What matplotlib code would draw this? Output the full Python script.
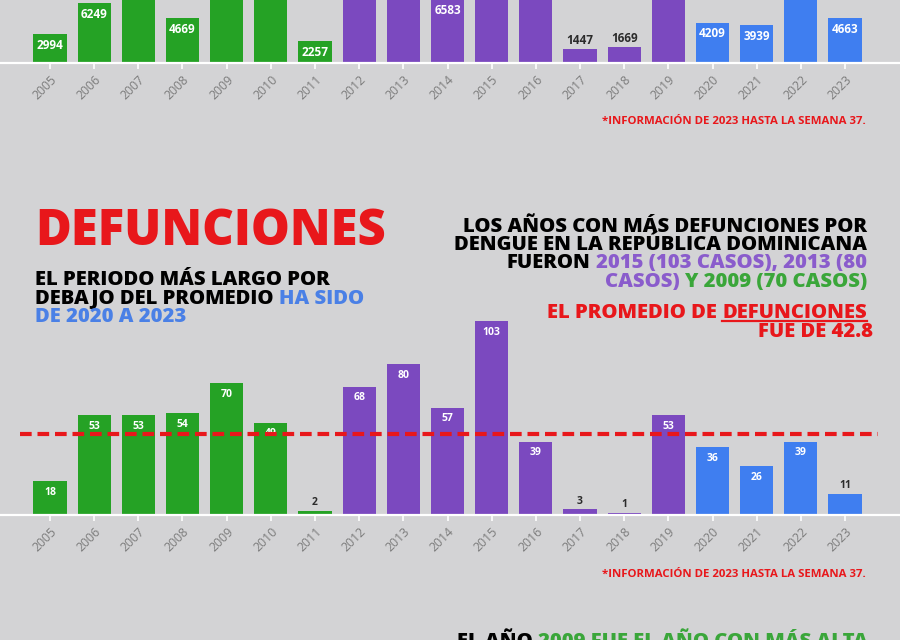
import matplotlib
matplotlib.use("Agg")
import matplotlib.pyplot as plt
from matplotlib.lines import Line2D

matplotlib.rcParams['font.family'] = ['Open Sans', 'DejaVu Sans']

# ── datos ─────────────────────────────────────────────
years = ["2005", "2006", "2007", "2008", "2009", "2010", "2011", "2012", "2013",
         "2014", "2015", "2016", "2017", "2018", "2019", "2020", "2021", "2022", "2023"]
casos = [2994, 6249, 9628, 4669, 8051, 12176, 2257, 10207, 16058,
         6583, 16846, 7286, 1447, 1669, 20183, 4209, 3939, 10737, 4663]
defunciones = [18, 53, 53, 54, 70, 49, 2, 68, 80,
               57, 103, 39, 3, 1, 53, 36, 26, 39, 11]
periodo = ["g"] * 7 + ["p"] * 8 + ["b"] * 4
promedio_def = 42.8

BG = "#d3d3d5"
COL = {"g": "#25a225", "p": "#7b49bf", "b": "#3f7ef0"}
RED = "#e8171b"
PURPLE = "#8a5ccc"
GREEN = "#3aa63a"
BLUE = "#4a80e6"
HEAVY = 800

W, H = 900, 640
fig = plt.figure(figsize=(9, 6.4), dpi=100, facecolor=BG)


def px_axes(left, top, width, height):
    return fig.add_axes([left / W, 1 - (top + height) / H, width / W, height / H])


def bar_chart(ax, values, ymax, thresh, lsize):
    x = list(range(len(values)))
    colors = [COL[p] for p in periodo]
    ax.bar(x, values, width=0.75, color=colors)
    ax.set_xlim(-50 / 44.17, 18 + 55 / 44.17)
    ax.set_ylim(0, ymax)
    ax.set_facecolor("none")
    for s in ["top", "left", "right"]:
        ax.spines[s].set_visible(False)
    ax.spines["bottom"].set_color("white")
    ax.spines["bottom"].set_linewidth(1.6)
    ax.set_yticks([])
    ax.set_xticks(x)
    ax.set_xticklabels(years, rotation=45, ha="right", rotation_mode="anchor",
                       color="#7c7c7c", fontsize=8.8)
    ax.tick_params(axis="x", colors="white", length=4, width=1.2, pad=3,
                   labelcolor="#7c7c7c")
    for xi, v in zip(x, values):
        if v > thresh:
            ax.annotate(str(v), (xi, v), xytext=(0, -8), textcoords="offset points",
                        ha="center", va="center", color="white",
                        fontsize=lsize, fontweight="bold")
        else:
            ax.annotate(str(v), (xi, v), xytext=(0, 6), textcoords="offset points",
                        ha="center", va="center", color="#2b2b2b",
                        fontsize=lsize, fontweight="bold")


# ── gráfico de casos (recortado arriba) ───────────────
ax1 = px_axes(0, 0, W, 63)
bar_chart(ax1, casos, 6562, 2000, 8.5)

fig.text(866 / W, 1 - 124 / H, "*INFORMACIÓN DE 2023 HASTA LA SEMANA 37.",
         ha="right", va="baseline", color=RED, fontsize=8.2, fontweight="bold")

# ── gráfico de defunciones ────────────────────────────
ax2 = px_axes(0, 515 - 207, W, 207)
bar_chart(ax2, defunciones, 207 / 1.884, 15, 7.5)
ax2.axhline(promedio_def, xmin=20 / W, xmax=878 / W, color=RED, lw=3,
            dashes=(2.8, 1.4), zorder=3)

fig.text(866 / W, 1 - 577 / H, "*INFORMACIÓN DE 2023 HASTA LA SEMANA 37.",
         ha="right", va="baseline", color=RED, fontsize=8.2, fontweight="bold")


# ── textos ────────────────────────────────────────────
def rich_line(x, y, pieces, ha="left", size=14.6):
    gap = 0.26 * size
    items = pieces if ha == "left" else pieces[::-1]
    out = []
    prev = None
    for s, c in items:
        if prev is None:
            t = fig.text(x / W, 1 - y / H, s, ha=ha, va="baseline", color=c,
                         fontsize=size, fontweight=HEAVY)
        elif ha == "left":
            t = plt.annotate(s, xy=(1, 0), xycoords=prev, xytext=(gap, 0),
                             textcoords="offset points", ha="left", va="bottom",
                             color=c, fontsize=size, fontweight=HEAVY,
                             annotation_clip=False)
        else:
            t = plt.annotate(s, xy=(0, 0), xycoords=prev, xytext=(-gap, 0),
                             textcoords="offset points", ha="right", va="bottom",
                             color=c, fontsize=size, fontweight=HEAVY,
                             annotation_clip=False)
        out.append(t)
        prev = t
    return out if ha == "left" else out[::-1]


fig.text(35 / W, 1 - 245 / H, "DEFUNCIONES", ha="left", va="baseline",
         color=RED, fontsize=35.3, fontweight=HEAVY)

rich_line(35, 285, [("EL PERIODO MÁS LARGO POR", "black")])
rich_line(35, 304, [("DEBAJO DEL PROMEDIO", "black"), ("HA SIDO", BLUE)])
rich_line(35, 322, [("DE 2020 A 2023", BLUE)])

rich_line(867, 232, [("LOS AÑOS CON MÁS DEFUNCIONES POR", "black")], ha="right")
rich_line(867, 250, [("DENGUE EN LA REPÚBLICA DOMINICANA", "black")], ha="right")
rich_line(867, 268, [("FUERON", "black"), ("2015 (103 CASOS), 2013 (80", PURPLE)], ha="right")
rich_line(867, 287, [("CASOS)", PURPLE), ("Y 2009 (70 CASOS)", GREEN)], ha="right")

red1 = rich_line(867, 318, [("EL PROMEDIO DE", RED), ("DEFUNCIONES", RED)], ha="right")
rich_line(873, 337, [("FUE DE 42.8", RED)], ha="right")

rich_line(868, 647, [("EL AÑO", "black"), ("2009 FUE EL AÑO CON MÁS ALTA", GREEN)], ha="right")

# subrayado de DEFUNCIONES
fig.canvas.draw()
bb = red1[1].get_window_extent()
uy = (bb.y0 + 2.5) / H
fig.add_artist(Line2D([bb.x0 / W, bb.x1 / W], [uy, uy], color=RED, lw=1.6,
                      transform=fig.transFigure))

fig.savefig("out.png", dpi=100, facecolor=BG)
